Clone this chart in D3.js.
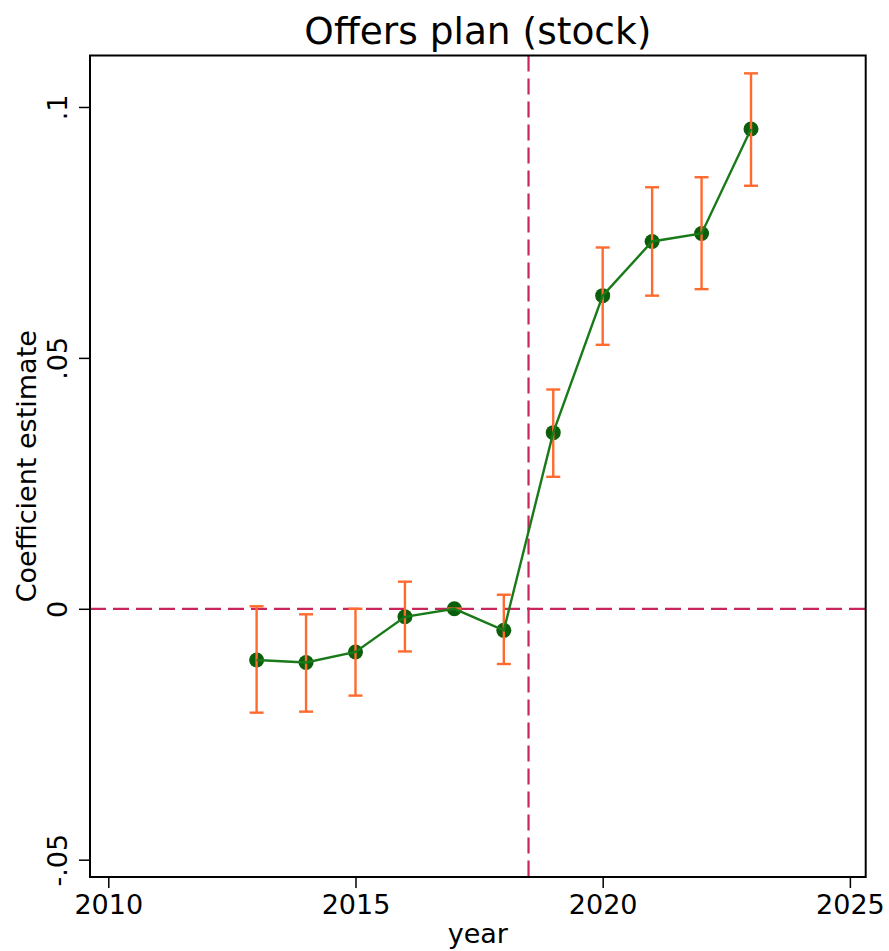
<!DOCTYPE html>
<html><head><meta charset="utf-8">
<script src="https://cdn.jsdelivr.net/npm/d3@7"></script>
<style>body{margin:0;background:#fff}svg{display:block}text{font-family:"DejaVu Sans",sans-serif}</style>
</head><body><svg id="c" width="889" height="951"></svg>
<script>
const years = [2013,2014,2015,2016,2017,2018,2019,2020,2021,2022,2023];
const coef  = [-0.0102,-0.0107,-0.0086,-0.0016,0,-0.0043,0.0351,0.0624,0.0732,0.0748,0.0956];
const ciLow = [-0.0207,-0.0205,-0.0173,-0.0085,0,-0.0110,0.0263,0.0526,0.0624,0.0637,0.0843];
const ciHigh= [0.0005,-0.0011,0.0000,0.0054,0,0.0028,0.0437,0.0720,0.0840,0.0860,0.1067];
const xTicks = [2010,2015,2020,2025];
const yTicks = [-0.05,0,0.05,0.1];
const yTickLabels = ["-.05","0",".05",".1"];
const treatLine = 2018.5;

const svg = d3.select("#c");
const L=90,R=865.7,T=55.5,B=877;
const x = d3.scaleLinear().domain([2009.63,2025.32]).range([L,R]);
const y = d3.scaleLinear().domain([-0.05345,0.11026]).range([B,T]);
const FS = 27;

// reference lines
svg.append("line").attr("x1",L).attr("x2",R).attr("y1",y(0)).attr("y2",y(0))
  .attr("stroke","#c8265a").attr("stroke-width",2.2).attr("stroke-dasharray","16,7");
svg.append("line").attr("x1",x(treatLine)).attr("x2",x(treatLine)).attr("y1",T).attr("y2",B)
  .attr("stroke","#c8265a").attr("stroke-width",2.2).attr("stroke-dasharray","16,7");

const data = years.map((yr,i)=>({yr,c:coef[i],lo:ciLow[i],hi:ciHigh[i]}));

// markers
svg.append("g").selectAll("circle").data(data).join("circle")
  .attr("cx",d=>x(d.yr)).attr("cy",d=>y(d.c)).attr("r",7.5).attr("fill","#0b5e0b");

// error bars
const eb = svg.append("g").attr("stroke","#ff6a2e").attr("stroke-width",2.4);
data.forEach(d=>{
  eb.append("line").attr("x1",x(d.yr)).attr("x2",x(d.yr)).attr("y1",y(d.lo)).attr("y2",y(d.hi));
  eb.append("line").attr("x1",x(d.yr)-7).attr("x2",x(d.yr)+7).attr("y1",y(d.lo)).attr("y2",y(d.lo));
  eb.append("line").attr("x1",x(d.yr)-7).attr("x2",x(d.yr)+7).attr("y1",y(d.hi)).attr("y2",y(d.hi));
});

// line
svg.append("path").datum(data)
  .attr("d",d3.line().x(d=>x(d.yr)).y(d=>y(d.c)))
  .attr("fill","none").attr("stroke","#1a7a1a").attr("stroke-width",2.4);

// frame
svg.append("rect").attr("x",L).attr("y",T).attr("width",R-L).attr("height",B-T)
  .attr("fill","none").attr("stroke","#000").attr("stroke-width",2);

// x axis
const xa = svg.append("g").attr("transform",`translate(0,${B})`)
  .call(d3.axisBottom(x).tickValues(xTicks).tickFormat(d3.format("d")).tickSize(11).tickPadding(6));
xa.select(".domain").remove();
xa.selectAll("line").attr("stroke","#000").attr("stroke-width",1.5);
xa.selectAll("text").attr("font-size",FS).attr("fill","#000").attr("font-family","DejaVu Sans")
  .attr("y",37).attr("dy","0");

// y axis
const ya = svg.append("g").attr("transform",`translate(${L},0)`)
  .call(d3.axisLeft(y).tickValues(yTicks).tickFormat((d,i)=>yTickLabels[i]).tickSize(11).tickPadding(0));
ya.select(".domain").remove();
ya.selectAll("line").attr("stroke","#000").attr("stroke-width",1.5);
ya.selectAll("text").attr("font-size",FS).attr("fill","#000").attr("font-family","DejaVu Sans")
  .attr("transform","translate(-23,0) rotate(-90)").attr("x",0).attr("y",0).attr("dy","0")
  .attr("text-anchor","middle");

// titles
svg.append("text").attr("x",(L+R)/2).attr("y",44).attr("text-anchor","middle")
  .attr("font-size",37.5).attr("fill","#000").text("Offers plan (stock)");
svg.append("text").attr("x",(L+R)/2).attr("y",943).attr("text-anchor","middle")
  .attr("font-size",FS).attr("fill","#000").text("year");
svg.append("text").attr("transform",`translate(36,${(T+B)/2}) rotate(-90)`).attr("text-anchor","middle")
  .attr("font-size",FS).attr("fill","#000").text("Coefficient estimate");
</script></body></html>
